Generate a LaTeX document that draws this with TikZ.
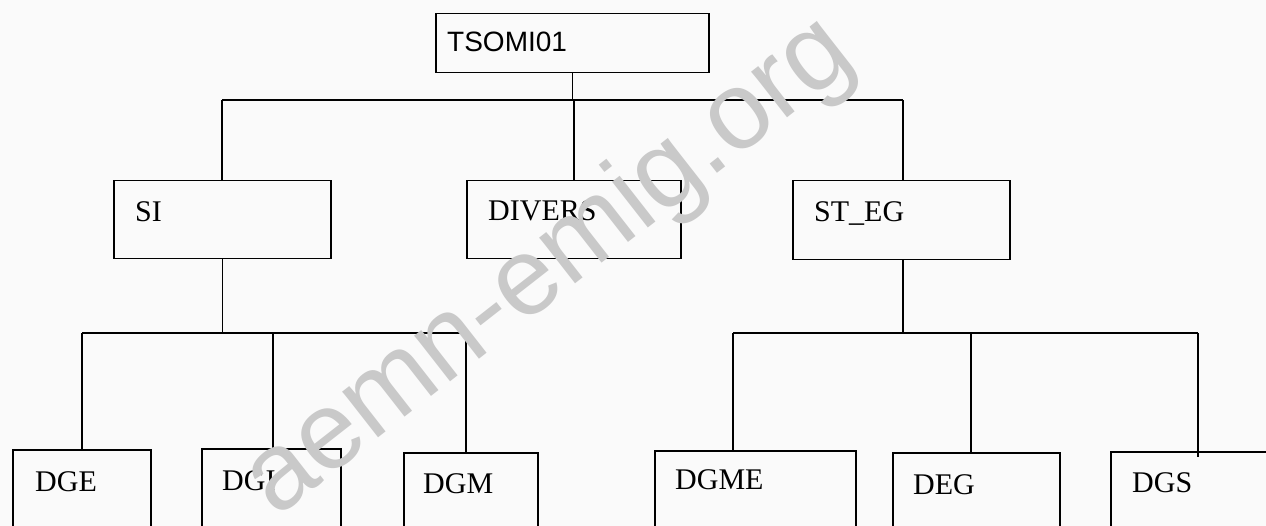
\documentclass[tikz,border=0pt]{standalone}
\usepackage{fontspec}
\setmainfont{Liberation Serif}
\newfontfamily\arialf{Liberation Sans}
\begin{document}
\begin{tikzpicture}[x=1pt,y=-1pt,
  boxn/.style={draw=black, line width=1.5pt, inner sep=0pt, anchor=north west},
  lbl/.style={anchor=base west, inner sep=0pt, font=\fontsize{30}{36}\selectfont},
  conn/.style={draw=black, line width=1.5pt},
  wmark/.style={font=\arialf\fontsize{110}{115}\selectfont, text=gray!42, inner sep=0pt}]
\useasboundingbox (0,0) rectangle (1266,526);
\fill[gray!4] (0,0) rectangle (1266,526);
\clip (0,0) rectangle (1266,526);
% boxes
\node[boxn, minimum width=273pt, minimum height=59pt] (tsomi) at (435,13) {};
\node[lbl, font=\arialf\fontsize{28}{34}\selectfont] (tsomiL) at (447,52) {TSOMI01};
\node[boxn, minimum width=217pt, minimum height=78pt] (si) at (113,180) {};
\node[lbl] (siL) at (135,222) {SI};
\node[boxn, minimum width=214pt, minimum height=78pt] (divers) at (466,180) {};
\node[lbl] (diversL) at (488,221) {DIVERS};
\node[boxn, minimum width=217pt, minimum height=79pt] (steg) at (792,180) {};
\node[lbl] (stegL) at (814,222) {ST\_EG};
\node[boxn, minimum width=138pt, minimum height=100pt] (dge) at (12,449) {};
\node[lbl] (dgeL) at (35,491) {DGE};
\node[boxn, minimum width=139pt, minimum height=100pt] (dgi) at (201,448) {};
\node[lbl] (dgiL) at (222,490) {DGI};
\node[boxn, minimum width=134pt, minimum height=100pt] (dgm) at (403,452) {};
\node[lbl] (dgmL) at (423,493) {DGM};
\node[boxn, minimum width=201pt, minimum height=100pt] (dgme) at (654,450) {};
\node[lbl] (dgmeL) at (675,489) {DGME};
\node[boxn, minimum width=167pt, minimum height=100pt] (deg) at (892,452) {};
\node[lbl] (degL) at (913,494) {DEG};
\node[boxn, minimum width=200pt, minimum height=100pt] (dgs) at (1110,451) {};
\node[lbl] (dgsL) at (1132,492) {DGS};
% hubs
\coordinate (t1) at (222,100);
\coordinate (t3) at (903,100);
\coordinate (a1) at (82,333);
\coordinate (a2) at (273,333);
\coordinate (a3) at (466,333);
\coordinate (b1) at (733,333);
\coordinate (b2) at (971,333);
\coordinate (b3) at (1198,333);
\coordinate (b3end) at (1198,457);
% connectors
\draw[conn] (tsomi.south) -- (tsomi.south |- t1);
\draw[conn] (t1) -- (t3);
\draw[conn] (t1) -- (t1 |- si.north);
\draw[conn] (divers.north |- t1) -- (divers.north);
\draw[conn] (t3) -- (t3 |- steg.north);
\draw[conn] (si.south) -- (si.south |- a1);
\draw[conn] (a1) -- (a3);
\draw[conn] (a1) -- (a1 |- dge.north);
\draw[conn] (a2) -- (a2 |- dgi.north);
\draw[conn] (a3) -- (a3 |- dgm.north);
\draw[conn] (t3 |- steg.south) -- (t3 |- b1);
\draw[conn] (b1) -- (b3);
\draw[conn] (b1) -- (b1 |- dgme.north);
\draw[conn] (b2) -- (b2 |- deg.north);
\draw[conn] (b3) -- (b3end);
% watermark
\node[wmark, rotate=38] (wm) at (550,268) {aemn-emig.org};
\end{tikzpicture}
\end{document}
